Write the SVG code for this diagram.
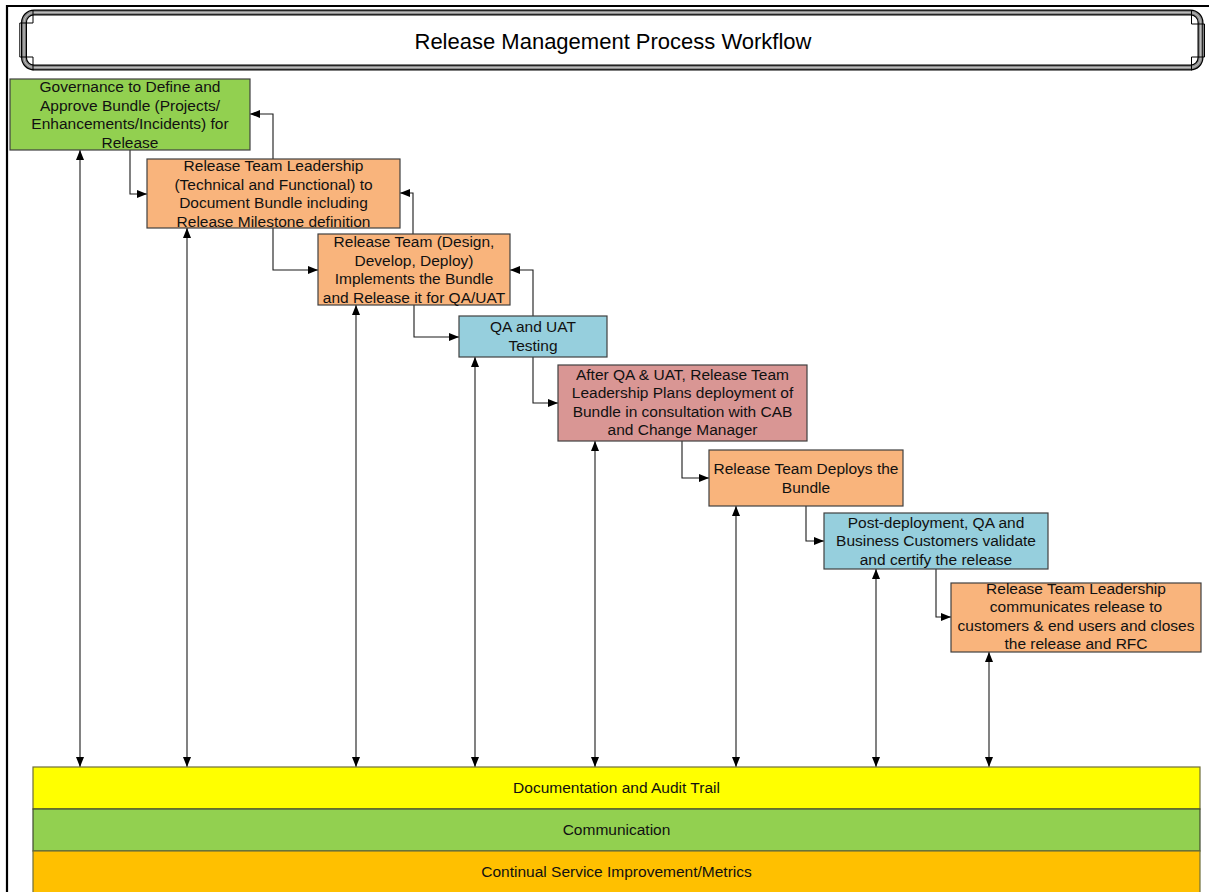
<svg xmlns="http://www.w3.org/2000/svg" width="1209" height="892" viewBox="0 0 1209 892">
<style>
.box{stroke:#404040;stroke-width:1.2}
.t{font-family:"Liberation Sans",Arial,sans-serif;font-size:15.5px;fill:#111;text-anchor:middle}
.c{fill:none;stroke:#1a1a1a;stroke-width:1.1}
.org{fill:#f9b47c}
.blu{fill:#96cfdd}
</style>
<defs>
<marker id="ah" markerWidth="10" markerHeight="8" refX="10" refY="4" orient="auto-start-reverse" markerUnits="userSpaceOnUse">
<path d="M0,0 L10,4 L0,8 Z" fill="#000"/>
</marker>
<path id="tf" d="M34,12.5 H1190.5 A10,10 0 0 1 1200.5,22.5 V57.5 A10,10 0 0 1 1190.5,67.5 H34 A10,10 0 0 1 24,57.5 V22.5 A10,10 0 0 1 34,12.5 Z"/>
</defs>
<rect x="0" y="0" width="1209" height="892" fill="#fff"/>
<path d="M7,892 V6 H1209" fill="none" stroke="#000" stroke-width="2.2"/>
<g id="title">
<use href="#tf" fill="#fff" stroke="#000" stroke-width="6"/>
<use href="#tf" fill="none" stroke="#8a8a8a" stroke-width="3.6"/>
<use href="#tf" fill="none" stroke="#c8c8c8" stroke-width="0.8"/>
<path d="M33,10 V23 H19.8 V57 H33 V70.5 M1191.5,10 V24 H1204.5 V57 H1191.5 V70.5" fill="none" stroke="#000" stroke-width="1"/>
<text x="613" y="48.5" style="font-family:'Liberation Sans',Arial,sans-serif;font-size:22px;fill:#000;text-anchor:middle">Release Management Process Workflow</text>
</g>
<g id="connectors">
<path class="c" d="M130,150 V194 H147" marker-end="url(#ah)"/>
<path class="c" d="M273,228 V270 H318" marker-end="url(#ah)"/>
<path class="c" d="M414,305 V337 H459" marker-end="url(#ah)"/>
<path class="c" d="M533,357 V403 H558" marker-end="url(#ah)"/>
<path class="c" d="M682,441 V478 H709" marker-end="url(#ah)"/>
<path class="c" d="M806,506 V541 H824" marker-end="url(#ah)"/>
<path class="c" d="M936,569 V617 H951" marker-end="url(#ah)"/>
<path class="c" d="M273,159 V114 H250" marker-end="url(#ah)"/>
<path class="c" d="M413,234 V193 H400" marker-end="url(#ah)"/>
<path class="c" d="M533,316 V270 H510" marker-end="url(#ah)"/>
<path class="c" d="M80,150 V767" marker-start="url(#ah)" marker-end="url(#ah)"/>
<path class="c" d="M187,228 V767" marker-start="url(#ah)" marker-end="url(#ah)"/>
<path class="c" d="M356,305 V767" marker-start="url(#ah)" marker-end="url(#ah)"/>
<path class="c" d="M475,357 V767" marker-start="url(#ah)" marker-end="url(#ah)"/>
<path class="c" d="M595,441 V767" marker-start="url(#ah)" marker-end="url(#ah)"/>
<path class="c" d="M736,506 V767" marker-start="url(#ah)" marker-end="url(#ah)"/>
<path class="c" d="M876,569 V767" marker-start="url(#ah)" marker-end="url(#ah)"/>
<path class="c" d="M989,652 V767" marker-start="url(#ah)" marker-end="url(#ah)"/>
</g>
<g id="n1">
<rect class="box" x="10" y="79" width="240" height="71" fill="#92d050"/>
<text class="t" x="130"><tspan x="130" y="92">Governance to Define and</tspan><tspan x="130" y="110.5">Approve Bundle (Projects/</tspan><tspan x="130" y="129">Enhancements/Incidents) for</tspan><tspan x="130" y="147.5">Release</tspan></text>
</g>
<g id="n2">
<rect class="box org" x="147" y="159" width="253" height="69"/>
<text class="t"><tspan x="273.5" y="171">Release Team Leadership</tspan><tspan x="273.5" y="189.5">(Technical and Functional) to</tspan><tspan x="273.5" y="208">Document Bundle including</tspan><tspan x="273.5" y="226.5">Release Milestone definition</tspan></text>
</g>
<g id="n3">
<rect class="box org" x="318" y="234" width="192" height="71"/>
<text class="t"><tspan x="414" y="247">Release Team (Design,</tspan><tspan x="414" y="265.5">Develop, Deploy)</tspan><tspan x="414" y="284">Implements the Bundle</tspan><tspan x="414" y="302.5">and Release it for QA/UAT</tspan></text>
</g>
<g id="n4">
<rect class="box blu" x="459" y="316" width="148" height="41"/>
<text class="t"><tspan x="533" y="332">QA and UAT</tspan><tspan x="533" y="350.5">Testing</tspan></text>
</g>
<g id="n5">
<rect class="box" x="558" y="365" width="249" height="76" fill="#d99694"/>
<text class="t"><tspan x="682.5" y="379.5">After QA &amp; UAT, Release Team</tspan><tspan x="682.5" y="398">Leadership Plans deployment of</tspan><tspan x="682.5" y="416.5">Bundle in consultation with CAB</tspan><tspan x="682.5" y="435">and Change Manager</tspan></text>
</g>
<g id="n6">
<rect class="box org" x="709" y="450" width="194" height="56"/>
<text class="t"><tspan x="806" y="473.5">Release Team Deploys the</tspan><tspan x="806" y="492.5">Bundle</tspan></text>
</g>
<g id="n7">
<rect class="box blu" x="824" y="513" width="224" height="56"/>
<text class="t"><tspan x="936" y="527.5">Post-deployment, QA and</tspan><tspan x="936" y="546">Business Customers validate</tspan><tspan x="936" y="564.5">and certify the release</tspan></text>
</g>
<g id="n8">
<rect class="box org" x="951" y="583" width="250" height="69"/>
<text class="t"><tspan x="1076" y="593.5">Release Team Leadership</tspan><tspan x="1076" y="612">communicates release to</tspan><tspan x="1076" y="630.5">customers &amp; end users and closes</tspan><tspan x="1076" y="649">the release and RFC</tspan></text>
</g>
<g id="bar1">
<rect x="33" y="767" width="1167" height="42" fill="#ffff00" stroke="#6e6e3a" stroke-width="1.2"/>
<text class="t" x="616.5" y="793">Documentation and Audit Trail</text>
</g>
<g id="bar2">
<rect x="33" y="809" width="1167" height="42" fill="#92d050" stroke="#404a30" stroke-width="1.2"/>
<text class="t" x="616.5" y="835">Communication</text>
</g>
<g id="bar3">
<rect x="33" y="851" width="1167" height="45" fill="#ffc000" stroke="#6e6e3a" stroke-width="1.2"/>
<text class="t" x="616.5" y="877">Continual Service Improvement/Metrics</text>
</g>
</svg>
